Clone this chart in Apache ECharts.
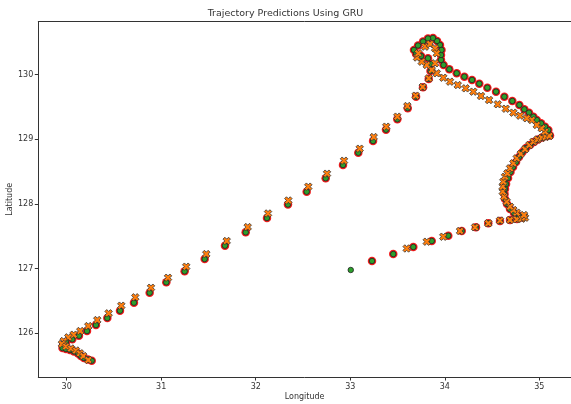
<!DOCTYPE html>
<html>
<head>
<meta charset="utf-8">
<script src="https://cdn.jsdelivr.net/npm/echarts@6/dist/echarts.min.js"></script>
<style>html,body{margin:0;padding:0;background:#fff;}#c{width:571px;height:404px;}</style>
</head>
<body>
<div id="c"></div>
<script>
// Actual trajectory (green circles); the red series repeats it from the 2nd point on
const actualLon = [33.005,33.230,33.455,33.667,33.862,34.037,34.179,34.330,34.460,34.584,34.690,34.764,34.817,34.785,34.732,34.690,34.658,34.637,34.632,34.637,34.648,34.669,34.695,34.722,34.754,34.785,34.822,34.859,34.902,34.944,34.986,35.029,35.071,35.113,35.095,35.060,35.018,34.973,34.937,34.891,34.841,34.789,34.714,34.630,34.542,34.450,34.365,34.288,34.207,34.126,34.048,33.987,33.960,33.960,33.965,33.949,33.918,33.875,33.822,33.770,33.717,33.674,33.696,33.749,33.822,33.854,33.849,33.830,33.770,33.696,33.608,33.498,33.378,33.241,33.085,32.923,32.740,32.539,32.341,32.119,31.894,31.675,31.460,31.248,31.054,30.878,30.712,30.564,30.430,30.310,30.215,30.130,30.059,29.993,29.961,29.956,29.993,30.035,30.077,30.120,30.151,30.183,30.225,30.265];
const actualLat = [126.976,127.115,127.223,127.332,127.425,127.507,127.580,127.637,127.699,127.734,127.750,127.765,127.789,127.812,127.858,127.920,127.998,128.075,128.153,128.230,128.307,128.400,128.493,128.571,128.648,128.726,128.803,128.865,128.911,128.958,128.997,129.027,129.051,129.058,129.144,129.195,129.247,129.299,129.350,129.412,129.464,129.531,129.593,129.659,129.737,129.799,129.861,129.918,129.969,130.022,130.084,130.150,130.228,130.305,130.383,130.460,130.522,130.568,130.561,130.514,130.452,130.383,130.321,130.290,130.254,130.166,130.057,129.933,129.805,129.659,129.480,129.309,129.148,128.973,128.792,128.602,128.396,128.188,127.990,127.781,127.559,127.352,127.146,126.955,126.785,126.624,126.469,126.345,126.232,126.124,126.031,125.958,125.902,125.861,125.814,125.768,125.752,125.737,125.714,125.683,125.644,125.613,125.590,125.571];
// GRU predictions (orange X)
const predLon = [33.597,33.809,33.984,34.161,34.320,34.460,34.584,34.690,34.761,34.814,34.849,34.838,34.761,34.725,34.690,34.655,34.627,34.613,34.613,34.619,34.637,34.662,34.690,34.725,34.761,34.803,34.849,34.894,34.937,34.981,35.025,35.066,35.106,35.060,35.025,34.973,34.920,34.867,34.796,34.725,34.645,34.560,34.468,34.383,34.302,34.221,34.137,34.055,33.984,33.915,33.862,33.809,33.756,33.706,33.720,33.791,33.844,33.897,33.915,33.897,33.830,33.766,33.692,33.604,33.498,33.381,33.248,33.100,32.934,32.754,32.556,32.345,32.130,31.915,31.693,31.477,31.265,31.072,30.892,30.726,30.578,30.444,30.324,30.229,30.144,30.074,30.017,29.968,29.950,29.993,30.045,30.098,30.141,30.176,30.229];
const predLat = [127.309,127.414,127.491,127.580,127.637,127.699,127.742,127.750,127.761,127.770,127.786,127.827,127.863,127.905,127.956,128.033,128.111,128.188,128.266,128.343,128.420,128.473,128.551,128.628,128.705,128.772,128.845,128.911,128.962,128.997,129.020,129.035,129.051,129.117,129.170,129.221,129.299,129.325,129.365,129.412,129.473,129.542,129.608,129.670,129.737,129.789,129.840,129.892,129.953,130.022,130.073,130.150,130.201,130.266,130.331,130.434,130.475,130.409,130.331,130.177,129.944,129.810,129.675,129.515,129.350,129.195,129.035,128.854,128.668,128.467,128.266,128.052,127.851,127.641,127.425,127.223,127.027,126.856,126.701,126.553,126.423,126.305,126.201,126.108,126.031,125.974,125.933,125.876,125.830,125.791,125.760,125.729,125.686,125.644,125.582];
const xTicks = [30, 31, 32, 33, 34, 35];
const yTicks = [126, 127, 128, 129, 130];
const titleText = 'Trajectory Predictions Using GRU';
const xName = 'Longitude';
const yName = 'Latitude';

const zip = (a, b) => a.map((v, i) => [v, b[i]]);
const actual = zip(actualLon, actualLat);
const pred = zip(predLon, predLat);

const FONT = 'DejaVu Sans';
const TXT = '#333';
const xMark = 'path://M-0.5,-1 L0,-0.5 L0.5,-1 L1,-0.5 L0.5,0 L1,0.5 L0.5,1 L0,0.5 L-0.5,1 L-1,0.5 L-0.5,0 L-1,-0.5 Z';

const chart = echarts.init(document.getElementById('c'), null, {renderer: 'canvas'});
chart.setOption({
  animation: false,
  backgroundColor: '#fff',
  title: {
    text: titleText, left: 'center', top: 9, padding: 0,
    textStyle: {fontFamily: FONT, fontSize: 9.5, fontWeight: 'normal', color: TXT}
  },
  grid: {left: 38.3, right: 0, top: 21.6, bottom: 27, containLabel: false, outerBoundsMode: 'none'},
  xAxis: [{
    type: 'value', min: 29.70, max: 35.335,
    name: xName, nameLocation: 'middle', nameGap: 15.5, nameMoveOverlap: false,
    nameTextStyle: {fontFamily: FONT, fontSize: 8, color: TXT},
    axisLine: {show: true, onZero: false, lineStyle: {color: '#333', width: 1}},
    axisTick: {show: true, inside: false, length: 3.5, customValues: xTicks, lineStyle: {color: '#333'}},
    axisLabel: {customValues: xTicks, fontFamily: FONT, fontSize: 8, color: TXT, margin: 5.5},
    splitLine: {show: false}
  }, {
    type: 'value', position: 'top', min: 29.70, max: 35.335,
    axisLine: {show: true, onZero: false, lineStyle: {color: '#333', width: 1}},
    axisTick: {show: false}, axisLabel: {show: false}, splitLine: {show: false}
  }],
  yAxis: {
    type: 'value', min: 125.319, max: 130.822,
    name: yName, nameLocation: 'middle', nameGap: 24, nameMoveOverlap: false,
    nameTextStyle: {fontFamily: FONT, fontSize: 8, color: TXT},
    axisLine: {show: true, onZero: false, lineStyle: {color: '#333', width: 1}},
    axisTick: {show: true, inside: false, length: 3.5, customValues: yTicks, lineStyle: {color: '#333'}},
    axisLabel: {customValues: yTicks, fontFamily: FONT, fontSize: 8, color: TXT, margin: 5},
    splitLine: {show: false}
  },
  series: [
    {
      type: 'scatter', data: actual.slice(1), symbol: 'circle', symbolSize: 8.5, z: 1,
      itemStyle: {color: '#f21d1d', borderWidth: 0, opacity: 1}
    },
    {
      type: 'scatter', data: actual, symbol: 'circle', symbolSize: 5.5, z: 2,
      itemStyle: {color: '#2ca02c', borderColor: '#222', borderWidth: 0.8, opacity: 1}
    },
    {
      type: 'scatter', data: pred, symbol: xMark, symbolSize: 7.5, z: 3,
      itemStyle: {color: '#ff7f0e', borderColor: '#333', borderWidth: 0.8, opacity: 1}
    }
  ]
});
</script>
</body>
</html>
